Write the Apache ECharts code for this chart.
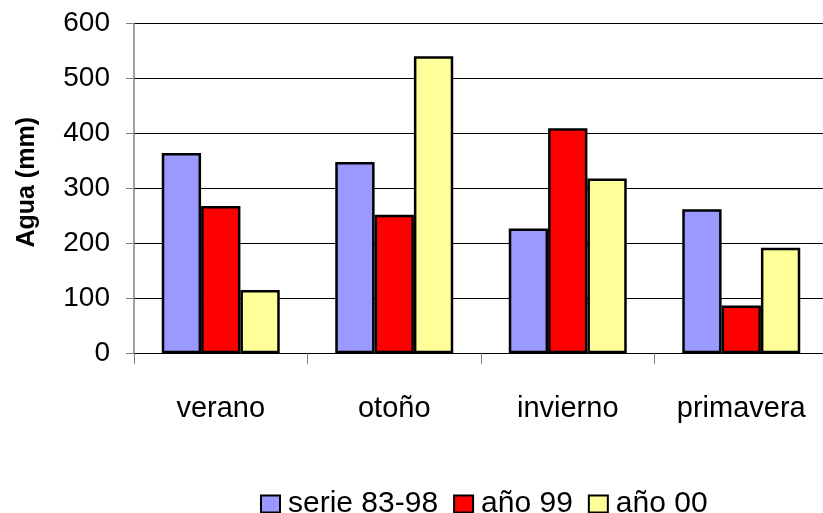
<!DOCTYPE html>
<html><head><meta charset="utf-8">
<script src="https://cdn.jsdelivr.net/npm/echarts@6/dist/echarts.min.js"></script>
<style>html,body{margin:0;padding:0;background:#fff}#c{width:823px;height:513px}</style>
</head><body><div id="c"></div>
<script>
const categories = ['verano', 'otoño', 'invierno', 'primavera'];
const serie8398 = [364, 348, 227, 262];
const ano99 = [268, 252, 409, 87];
const ano00 = [115, 540, 318, 192];
const seriesNames = ['serie 83-98', 'año 99', 'año 00'];
const colors = ['#9999FF', '#FF0000', '#FFFF99'];

const chart = echarts.init(document.getElementById('c'));
const mk = (name, data, color) => ({
  name, type: 'bar', data,
  barGap: '0%', barCategoryGap: '32%',
  itemStyle: { color, borderColor: '#000', borderWidth: 2.5 },
  emphasis: { disabled: true }
});
chart.setOption({
  animation: false,
  backgroundColor: '#fff',
  grid: { left: 134, top: 23.3, height: 330, width: 694, containLabel: false, outerBoundsMode: 'none' },
  legend: {
    left: 255, top: 484,
    icon: 'rect', itemWidth: 19, itemHeight: 17, itemGap: 15,
    textStyle: { fontFamily: 'Liberation Sans, Arial', fontSize: 30, color: '#000', padding: [0, 0, 0, 3] },
    data: seriesNames
  },
  xAxis: {
    type: 'category', data: categories,
    axisLine: { show: true, lineStyle: { color: '#000', width: 1 } },
    axisTick: { show: true, interval: 0, length: 11, lineStyle: { color: '#808080' } },
    axisLabel: { interval: 0, margin: 41, fontFamily: 'Liberation Sans, Arial', fontSize: 29, color: '#000' }
  },
  yAxis: {
    type: 'value', min: 0, max: 600, interval: 100,
    name: 'Agua (mm)', nameLocation: 'middle', nameRotate: 90, nameGap: 94,
    nameTextStyle: { fontFamily: 'Liberation Sans, Arial', fontSize: 25, fontWeight: 'bold', color: '#000', padding: [0, 0, 0, 12] },
    axisLine: { show: true, lineStyle: { color: '#808080', width: 1.5 } },
    axisTick: { show: true, length: 8, inside: false, lineStyle: { color: '#808080' } },
    axisLabel: { margin: 24, fontFamily: 'Liberation Sans, Arial', fontSize: 28, color: '#000' },
    splitLine: { show: true, lineStyle: { color: '#000', width: 1 } }
  },
  series: [
    mk(seriesNames[0], serie8398, colors[0]),
    mk(seriesNames[1], ano99, colors[1]),
    mk(seriesNames[2], ano00, colors[2])
  ]
});
</script></body></html>
